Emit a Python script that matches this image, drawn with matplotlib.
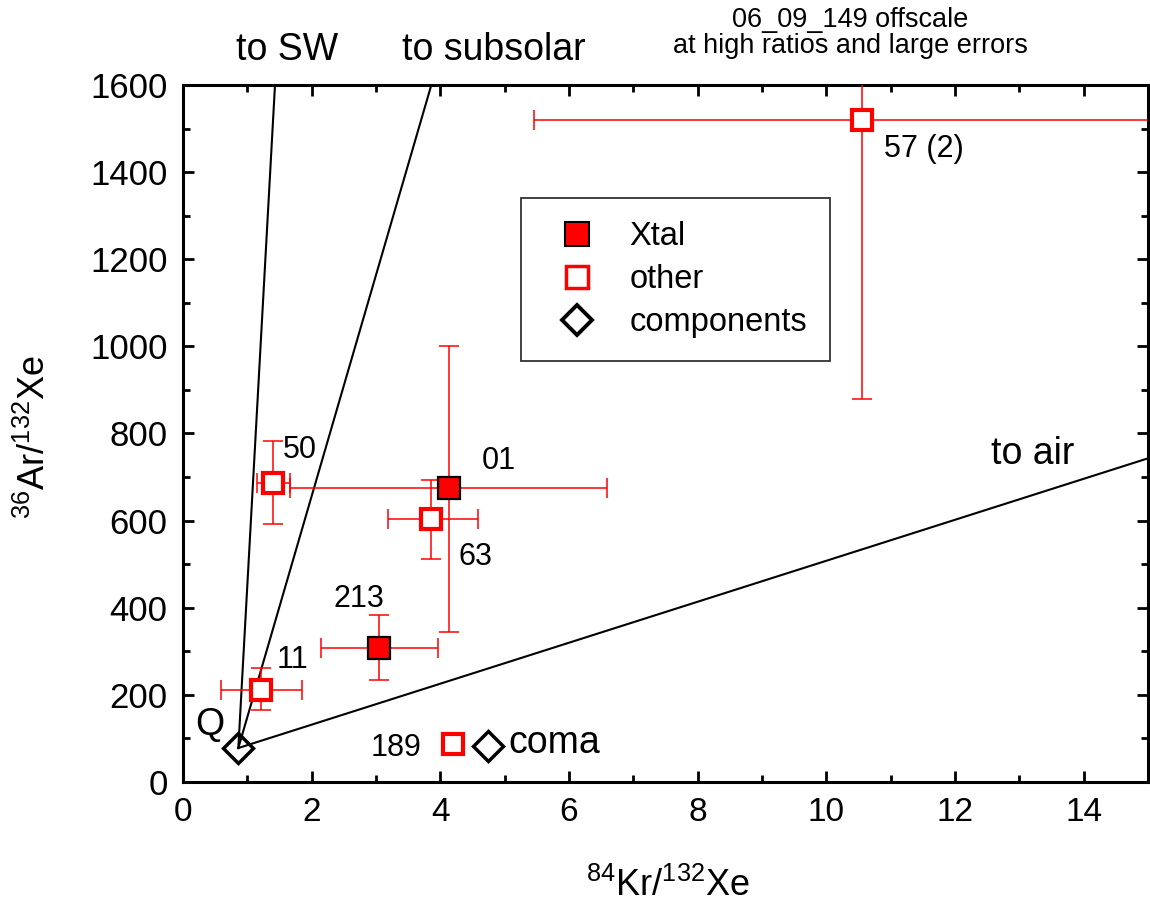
import matplotlib
matplotlib.use("Agg")
import matplotlib.pyplot as plt
from matplotlib.lines import Line2D

plt.rcParams['font.family'] = ['Liberation Sans', 'DejaVu Sans']
plt.rcParams['mathtext.fontset'] = 'custom'
plt.rcParams['mathtext.rm'] = 'Liberation Sans'
plt.rcParams['mathtext.it'] = 'Liberation Sans'

# ---- data ----
xtal_labels = ["01", "213"]
xtal_x = [4.14, 3.05]
xtal_y = [676, 308]
xtal_xlo = [1.66, 2.15]
xtal_xhi = [6.59, 3.97]
xtal_ylo = [345, 234]
xtal_yhi = [1000, 384]

other_labels = ["57 (2)", "50", "63", "11", "189"]
other_x = [10.55, 1.40, 3.85, 1.21, 4.20]
other_y = [1520, 687, 604, 211, 88]
other_xlo = [5.45, 1.15, 3.19, 0.59, 4.20]
other_xhi = [16.5, 1.66, 4.59, 1.85, 4.20]
other_ylo = [880, 593, 512, 165, 88]
other_yhi = [2200, 782, 694, 262, 88]

comp_labels = ["Q", "coma"]
comp_x = [0.86, 4.74]
comp_y = [78, 83]

# mixing lines from Q
line_names = ["to SW", "to subsolar", "to air"]
line_end_x = [1.43, 3.86, 15.0]
line_end_y = [1600, 1600, 743]

fig = plt.figure(figsize=(11.5, 9.14), dpi=100)
ax = fig.add_axes([183/1150, 1-782/914, (1148-183)/1150, (782-85)/914])
ax.set_xlim(0, 15)
ax.set_ylim(0, 1600)

# lines
for ex, ey in zip(line_end_x, line_end_y):
    ax.plot([comp_x[0], ex], [comp_y[0], ey], color='black', lw=1.5, zorder=2)

ecol = '#ff0000'

def draw_err(x, y, xlo, xhi, ylo, yhi):
    for xi, yi, a, b, c, d in zip(x, y, xlo, xhi, ylo, yhi):
        if a == b and c == d:
            continue  # no measured error shown
        ax.errorbar([xi], [yi], xerr=[[xi - a], [b - xi]], yerr=[[yi - c], [d - yi]],
                    fmt='none', ecolor=ecol, elinewidth=1.1, capsize=7,
                    capthick=1.1, zorder=3)

draw_err(other_x, other_y, other_xlo, other_xhi, other_ylo, other_yhi)
draw_err(xtal_x, xtal_y, xtal_xlo, xtal_xhi, xtal_ylo, xtal_yhi)

ax.plot(other_x, other_y, ls='none', marker='s', ms=15, mfc='white',
        mec=ecol, mew=3, zorder=5)
ax.plot(xtal_x, xtal_y, ls='none', marker='s', ms=16, mfc=ecol,
        mec='black', mew=1.6, zorder=5)
ax.plot(comp_x, comp_y, ls='none', marker='D', ms=15, mfc='none',
        mec='black', mew=2.5, zorder=6)

fs = 22
# point labels
ax.text(10.9, 1453, "57 (2)", fontsize=fs, ha='left', va='center')
ax.text(1.55, 763, "50", fontsize=fs, ha='left', va='center')
ax.text(4.65, 736, "01", fontsize=fs, ha='left', va='center')
ax.text(4.29, 517, "63", fontsize=fs, ha='left', va='center')
ax.text(2.74, 421, "213", fontsize=fs, ha='center', va='center')
ax.text(1.46, 280, "11", fontsize=fs, ha='left', va='center')
ax.text(3.70, 78, "189", fontsize=fs, ha='right', va='center')
ax.text(5.05, 90, "coma", fontsize=27, ha='left', va='center')
ax.text(0.42, 131, "Q", fontsize=27, ha='center', va='center')
ax.text(13.2, 752, "to air", fontsize=27, ha='center', va='center')

fig.text(287/1150, 1-50/914, "to SW", fontsize=27, ha='center', va='center')
fig.text(494/1150, 1-50/914, "to subsolar", fontsize=27, ha='center', va='center')
fig.text(850/1150, 1-33/914, "06_09_149 offscale\nat high ratios and large errors",
         fontsize=19.5, ha='center', va='center', linespacing=1.0)

# axes styling
for s in ax.spines.values():
    s.set_linewidth(2.2)
ax.set_xticks(range(0, 16, 2))
ax.set_xticks(range(0, 16, 1), minor=True)
ax.set_yticks(range(0, 1601, 200))
ax.set_yticks(range(0, 1601, 100), minor=True)
ax.tick_params(which='both', direction='in', top=True, right=True, width=2)
ax.tick_params(which='major', length=8, labelsize=25, pad=11)
ax.tick_params(which='minor', length=5)
ax.tick_params(axis='x', labelsize=24)

fig.text(668/1150, 1-886/914, r'$^{84}$Kr/$^{132}$Xe', fontsize=26,
         ha='center', va='center')
fig.text(35/1150, 1-437/914, r'$^{36}$Ar/$^{132}$Xe', fontsize=26,
         ha='center', va='center', rotation=90)

# legend
handles = [
    Line2D([], [], ls='none', marker='s', ms=17, mfc=ecol, mec='black', mew=1.5),
    Line2D([], [], ls='none', marker='s', ms=16, mfc='white', mec=ecol, mew=2.5),
    Line2D([], [], ls='none', marker='D', ms=15, mfc='none', mec='black', mew=2.8),
]
leg = ax.legend(handles, ["Xtal", "other", "components"], loc='upper left',
                bbox_to_anchor=((521-183)/965, (782-198)/697), fontsize=23.5,
                frameon=True, fancybox=False, edgecolor='black',
                borderpad=0.72, labelspacing=0.36, handletextpad=0.6,
                handlelength=2.0, borderaxespad=0)
leg.get_frame().set_linewidth(1.3)

fig.savefig("out.png", dpi=100)
